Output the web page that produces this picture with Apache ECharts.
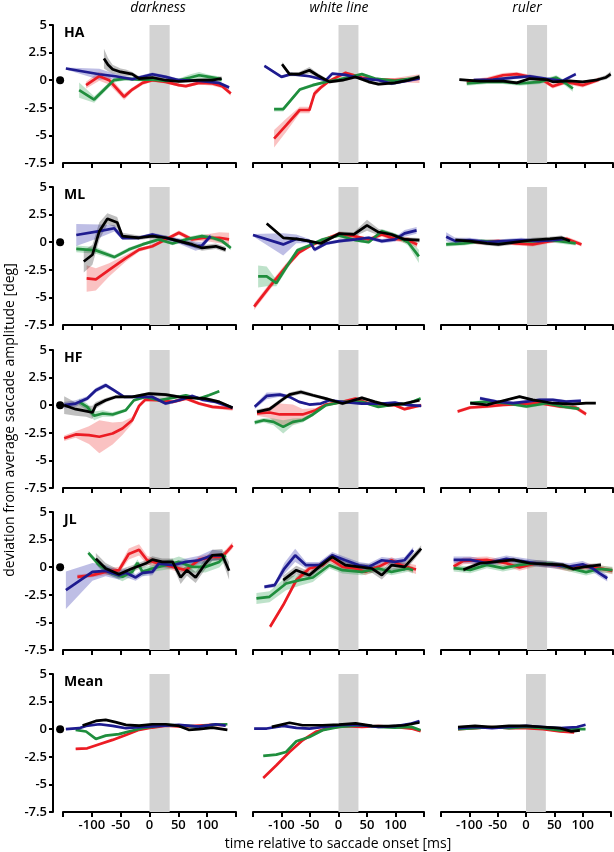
<!DOCTYPE html>
<html><head><meta charset="utf-8">
<script src="https://cdn.jsdelivr.net/npm/echarts@6/dist/echarts.min.js"></script>
<style>html,body{margin:0;padding:0;background:#fff}#c{width:614px;height:852px}</style>
</head><body><div id="c"></div>
<script>
// ---------- labels ----------
const ROWS = ['HA', 'ML', 'HF', 'JL', 'Mean'];
const COLS = ['darkness', 'white line', 'ruler'];
const COLORS = ['red', 'green', 'blue', 'black'];
const yTicks = [5, 2.5, 0, -2.5, -5, -7.5];
const xTickLabels = [-100, -50, 0, 50, 100];
const saccadeWindow = [0, 35];
const refDot = [-155, 0];
const xTitle = 'time relative to saccade onset [ms]';
const yTitle = 'deviation from average saccade amplitude [deg]';

// ---------- data: [time ms, mean deviation deg, band half-width deg] ----------
// HA
const HA_dark_red = [[-110,-0.45,0.3],[-87,0.36,0.4],[-70,0,0.4],[-44,-1.5,0.3],[-30,-0.85,0.2],[-12,-0.24,0.2],[5,0,0.15],[28,-0.15,0.15],[51,-0.45,0.15],[63,-0.54,0.15],[86,-0.24,0.15],[109,-0.3,0.2],[126,-0.54,0.2],[141,-1.2,0.2]];
const HA_dark_green = [[-122,-0.9,0.7],[-96,-1.75,0.3],[-62,0,0.2],[-41,0.15,0.15],[-18,0.06,0.15],[5,0.06,0.15],[28,-0.06,0.15],[51,0,0.15],[71,0.24,0.3],[86,0.45,0.3],[103,0.3,0.2],[120,0.15,0.2],[125,0,0.2]];
const HA_dark_blue = [[-145,1.06,0.1],[-87,0.54,0.5],[-59,0.36,0.2],[-30,0.09,0.15],[5,0.54,0.15],[28,0.3,0.15],[51,0,0.15],[86,-0.06,0.15],[120,-0.24,0.15],[138,-0.66,0.15]];
const HA_dark_black = [[-79,1.96,0.9],[-72,1.4,0.6],[-64,1.0,0.4],[-50,0.75,0.3],[-41,0.66,0.3],[-30,0.55,0.2],[-18,0.15,0.2],[5,0.24,0.15],[28,0,0.15],[51,-0.12,0.15],[86,0,0.15],[109,0,0.2],[125,0.15,0.2]];
const HA_white_red = [[-113,-5.3,0.8],[-92,-4.1,0.6],[-68,-2.7,0.3],[-51,-2.7,0.3],[-42,-1.2,0.3],[-31,-0.66,0.2],[-16,-0.06,0.15],[12,0.66,0.15],[41,0.24,0.15],[70,0.06,0.15],[99,0,0.2],[142,0.15,0.4]];
const HA_white_green = [[-113,-2.63,0.2],[-97,-2.63,0.2],[-68,-0.85,0.15],[-45,-0.45,0.15],[-22,-0.15,0.1],[1,0.06,0.1],[41,0.55,0.1],[64,0.15,0.1],[99,-0.06,0.1],[142,0.24,0.2]];
const HA_white_blue = [[-130,1.3,0.1],[-100,0.3,0.1],[-83,0.55,0.1],[-51,0.36,0.1],[-22,0,0.1],[-11,0.6,0.1],[12,0.48,0.1],[41,0.15,0.1],[70,0,0.1],[93,-0.3,0.15],[116,-0.09,0.15],[142,0.15,0.15]];
const HA_white_black = [[-99,1.45,0.2],[-86,0.55,0.2],[-69,0.55,0.2],[-51,0.9,0.3],[-37,0.45,0.2],[-16,-0.15,0.15],[7,0,0.15],[30,0.3,0.15],[53,-0.15,0.15],[70,-0.36,0.15],[99,-0.24,0.15],[122,0,0.15],[142,0.3,0.2]];
const HA_ruler_red = [[-105,-0.15,0.2],[-70,0.06,0.2],[-42,0.45,0.2],[-18,0.55,0.2],[5,0.3,0.2],[28,0,0.2],[45,-0.55,0.2],[68,-0.15,0.2],[97,-0.45,0.2],[114,-0.15,0.2],[126,0.06,0.2]];
const HA_ruler_green = [[-105,-0.3,0.2],[-70,-0.15,0.2],[-42,-0.15,0.2],[-13,-0.3,0.2],[22,-0.15,0.2],[51,0.24,0.2],[68,-0.3,0.25],[80,-0.75,0.3]];
const HA_ruler_blue = [[-93,0,0.15],[-59,0.06,0.15],[-24,0.24,0.15],[5,0.36,0.15],[34,0.12,0.15],[62,-0.06,0.15],[85,0.55,0.15]];
const HA_ruler_black = [[-118,0.06,0.1],[-82,-0.09,0.1],[-41,-0.09,0.1],[-18,-0.24,0.1],[5,0.15,0.1],[34,0.06,0.1],[45,-0.15,0.1],[74,-0.06,0.1],[97,-0.15,0.1],[120,0,0.15],[137,0.24,0.2],[146,0.55,0.25]];
// ML
const ML_dark_red = [[-109,-3.28,1.2],[-93,-3.37,1.0],[-70,-2.5,0.6],[-41,-1.44,0.3],[-18,-0.67,0.2],[5,-0.37,0.15],[28,0.25,0.15],[51,0.86,0.2],[74,0.25,0.2],[97,0.4,0.3],[121,0.4,0.5],[138,0.25,0.6]];
const ML_dark_green = [[-127,-0.6,0.3],[-93,-0.74,0.3],[-61,-1.35,0.2],[-36,-0.67,0.2],[-12,-0.2,0.15],[16,0.25,0.15],[40,-0.12,0.15],[63,0.25,0.2],[91,0.55,0.2],[109,0.4,0.2],[126,0.1,0.2],[141,-0.52,0.2]];
const ML_dark_blue = [[-127,0.65,1.0],[-87,1.0,0.6],[-61,1.26,0.3],[-47,0.4,0.2],[-18,0.4,0.15],[5,0.7,0.15],[28,0.4,0.2],[51,0.1,0.25],[80,-0.37,0.4],[91,-0.3,0.3],[106,0.55,0.2]];
const ML_dark_black = [[-114,-1.75,1.0],[-99,-1.14,0.9],[-87,1.0,0.8],[-73,2.12,0.5],[-56,1.78,0.5],[-47,0.55,0.3],[-18,0.4,0.2],[5,0.55,0.2],[28,0.4,0.2],[51,0.1,0.2],[74,-0.2,0.25],[91,-0.52,0.25],[115,-0.37,0.25],[132,-0.67,0.25]];
const ML_white_red = [[-148,-5.83,0.3],[-121,-4.05,0.3],[-92,-2.2,0.3],[-69,-0.92,0.2],[-51,-0.37,0.15],[-28,0.18,0.15],[1,0.77,0.15],[27,0.55,0.15],[53,0.25,0.15],[76,0.7,0.2],[99,0.3,0.2],[122,0.18,0.3],[138,-0.2,0.3]];
const ML_white_green = [[-141,-3.1,1.0],[-126,-3.1,0.9],[-109,-3.7,0.3],[-89,-2.06,0.3],[-72,-0.74,0.2],[-51,-0.3,0.15],[-28,0.25,0.15],[1,0.61,0.15],[30,0.18,0.15],[53,0,0.15],[76,1.0,0.2],[99,0.61,0.2],[122,0,0.3],[141,-1.29,0.6]];
const ML_white_blue = [[-150,0.65,0.1],[-97,-0.2,1.0],[-74,0.3,0.4],[-51,0.1,0.2],[-42,-0.67,0.2],[-22,-0.12,0.15],[1,0.1,0.15],[30,0.25,0.15],[53,0.4,0.15],[76,0.1,0.2],[99,0.25,0.2],[116,0.8,0.3],[137,1.07,0.3]];
const ML_white_black = [[-126,1.69,0.1],[-97,0.4,0.1],[-74,0.3,0.1],[-51,0.1,0.1],[-31,-0.12,0.1],[1,0.77,0.2],[27,0.7,0.2],[50,1.53,0.5],[70,0.92,0.3],[93,0.7,0.2],[116,0.25,0.2],[142,0.18,0.2]];
const ML_ruler_red = [[-110,0.1,0.2],[-80,0,0.2],[-50,0.1,0.2],[-20,-0.1,0.2],[10,-0.2,0.2],[40,0.1,0.2],[70,0.3,0.2],[95,-0.2,0.2]];
const ML_ruler_green = [[-141,-0.2,0.2],[-110,-0.1,0.2],[-80,0.1,0.2],[-50,0,0.2],[-20,0.1,0.2],[10,0.1,0.2],[40,0.2,0.2],[70,0,0.2],[85,-0.1,0.2]];
const ML_ruler_blue = [[-141,0.5,0.4],[-125,0.1,0.3],[-100,0.2,0.2],[-70,0,0.2],[-40,0.1,0.2],[-10,0.2,0.2],[20,0.1,0.2],[50,0.2,0.2],[65,0.3,0.2]];
const ML_ruler_black = [[-125,0.2,0.2],[-100,0.1,0.2],[-70,-0.1,0.2],[-50,-0.2,0.2],[-20,0,0.2],[10,0.2,0.2],[40,0.3,0.2],[60,0.4,0.2],[75,0.1,0.2]];
// HF
const HF_dark_red = [[-148,-3.0,0.25],[-128,-2.65,0.3],[-105,-2.71,0.8],[-87,-2.86,1.5],[-64,-2.56,1.0],[-47,-2.11,0.6],[-30,-1.36,0.3],[-18,-0.06,0.2],[-7,0.51,0.15],[16,0.45,0.15],[40,0.3,0.15],[63,0.6,0.15],[86,0.15,0.15],[109,-0.15,0.15],[144,-0.3,0.2]];
const HF_dark_green = [[-122,0.3,0.3],[-108,-0.15,0.3],[-96,-0.96,0.4],[-81,-0.75,0.3],[-64,-0.84,0.2],[-41,-0.45,0.15],[-27,0.45,0.15],[-7,0.75,0.1],[16,0.45,0.1],[40,0.66,0.1],[63,0.9,0.1],[86,0.6,0.1],[103,0.9,0.1],[121,1.27,0.1]];
const HF_dark_blue = [[-148,0,0.3],[-128,0.15,0.3],[-108,0.6,0.2],[-93,1.36,0.2],[-76,1.81,0.2],[-62,1.36,0.15],[-44,0.75,0.1],[-18,0.75,0.1],[5,0.75,0.1],[28,0.15,0.15],[51,0.45,0.15],[74,0.84,0.15],[91,0.51,0.15],[115,0.3,0.15],[144,-0.24,0.15]];
const HF_dark_black = [[-148,0,0.8],[-128,-0.36,0.6],[-110,-0.54,0.5],[-99,-0.66,0.6],[-93,0,0.3],[-76,0.45,0.2],[-59,0.75,0.15],[-30,0.75,0.1],[-1,1.05,0.15],[28,0.96,0.15],[51,0.75,0.15],[74,0.66,0.15],[97,0.6,0.15],[121,0.3,0.15],[144,-0.24,0.15]];
const HF_white_red = [[-143,-0.75,0.2],[-121,-0.66,0.5],[-103,-0.84,1.0],[-80,-0.84,0.9],[-63,-0.84,0.5],[-40,-0.45,0.2],[-22,0.06,0.15],[7,0.3,0.15],[30,0.6,0.15],[53,0.15,0.15],[76,0.06,0.15],[99,0,0.15],[116,-0.36,0.15],[145,0,0.15]];
const HF_white_green = [[-147,-1.57,0.2],[-131,-1.36,0.2],[-114,-1.51,0.3],[-97,-1.96,0.6],[-80,-1.51,0.3],[-63,-1.36,0.2],[-45,-0.84,0.15],[-22,0,0.15],[7,0.3,0.1],[41,0.3,0.1],[70,-0.15,0.1],[99,0.06,0.1],[122,0.15,0.1],[144,0.6,0.15]];
const HF_white_blue = [[-147,-0.15,0.2],[-126,0.84,0.3],[-103,0.96,0.2],[-86,0.75,0.15],[-69,0.3,0.1],[-51,0.06,0.1],[-31,0.15,0.1],[-16,0.45,0.1],[7,0.3,0.1],[41,0.15,0.1],[76,0.15,0.1],[99,0.24,0.1],[122,0,0.1],[145,-0.06,0.1]];
const HF_white_black = [[-143,-0.6,0.2],[-121,-0.36,0.2],[-100,0.45,0.2],[-86,0.96,0.2],[-66,1.2,0.2],[-45,0.9,0.15],[-22,0.6,0.15],[7,0.15,0.15],[41,0.66,0.15],[64,0.3,0.15],[87,0,0.15],[116,0.15,0.15],[142,0.45,0.15]];
const HF_ruler_red = [[-121,-0.57,0.15],[-99,-0.21,0.15],[-70,-0.12,0.15],[-42,0.03,0.15],[-13,0.09,0.15],[22,0.18,0.15],[57,-0.12,0.15],[85,-0.21,0.2],[103,-0.81,0.2]];
const HF_ruler_green = [[-99,0.18,0.15],[-70,0.33,0.15],[-36,0.18,0.15],[-1,-0.12,0.15],[34,0.18,0.15],[62,-0.12,0.15],[91,-0.33,0.15]];
const HF_ruler_blue = [[-82,0.63,0.15],[-53,0.33,0.15],[-24,0.18,0.15],[-1,0.33,0.15],[22,0.48,0.15],[45,0.48,0.15],[68,0.33,0.15],[94,0.39,0.15]];
const HF_ruler_black = [[-99,0.18,0.1],[-70,0.03,0.1],[-47,0.33,0.1],[-13,0.78,0.1],[10,0.48,0.1],[45,0.18,0.1],[80,0.09,0.1],[103,0.18,0.1],[120,0.18,0.1]];
// JL
const JL_dark_red = [[-125,-0.87,0.2],[-99,-0.72,0.2],[-76,-0.42,0.3],[-53,-0.27,0.3],[-36,1.2,0.5],[-18,1.57,0.5],[-4,0.63,0.4],[16,0.33,0.3],[40,0.03,0.3],[63,-0.27,0.3],[86,0.69,0.3],[109,0.93,0.3],[126,0.93,0.3],[144,1.99,0.3]];
const JL_dark_green = [[-106,1.3,0.2],[-87,0.18,0.3],[-64,-0.57,0.3],[-47,-0.87,0.4],[-30,-0.42,0.4],[-21,0.39,0.3],[-12,-0.42,0.4],[5,-0.12,0.3],[28,0.18,0.4],[51,0.48,0.5],[74,0.03,0.5],[97,0.03,0.5],[121,0.48,0.5],[132,1.08,0.5]];
const JL_dark_blue = [[-145,-2.08,1.7],[-99,-0.42,0.8],[-76,-0.33,0.5],[-53,-0.72,0.4],[-41,-0.51,0.4],[-24,-0.93,0.3],[-12,-0.51,0.3],[5,-0.42,0.3],[16,0.33,0.3],[40,0.18,0.3],[63,0.48,0.3],[86,0.63,0.4],[109,1.08,0.5],[126,1.08,0.4]];
const JL_dark_black = [[-93,0.78,0.5],[-76,-0.12,0.5],[-53,-0.63,0.4],[-30,-0.12,0.3],[-7,0.33,0.3],[5,0.69,0.3],[22,0.48,0.3],[40,0.48,0.3],[54,-0.93,0.6],[65,-0.27,0.5],[80,-0.93,0.5],[97,0.33,0.5],[109,1.08,0.5],[126,1.14,0.5],[138,-0.33,0.8]];
const JL_white_red = [[-120,-5.39,0.2],[-97,-3.43,0.2],[-74,-1.17,0.3],[-51,-0.12,0.3],[-28,0.18,0.3],[-16,0.78,0.3],[7,0.03,0.3],[30,-0.12,0.3],[47,-0.42,0.3],[70,0.03,0.3],[93,0.63,0.3],[110,0.18,0.3],[136,-0.21,0.4]];
const JL_white_green = [[-144,-2.83,0.5],[-121,-2.68,0.5],[-92,-1.48,0.6],[-68,-1.17,0.5],[-45,-0.93,0.4],[-16,0.18,0.3],[7,-0.27,0.3],[41,-0.42,0.3],[70,-0.12,0.3],[93,-0.42,0.3],[122,-0.12,0.3],[131,-0.27,0.3]];
const JL_white_blue = [[-130,-1.78,0.15],[-112,-1.63,0.2],[-95,-0.12,0.5],[-76,1.08,0.6],[-57,0.18,0.3],[-34,0.18,0.3],[-11,1.08,0.3],[12,0.63,0.3],[36,0.18,0.3],[53,0.03,0.3],[76,0.63,0.3],[99,0.48,0.3],[116,0.63,0.3],[131,1.54,0.3]];
const JL_white_black = [[-97,-1.17,0.4],[-74,-0.27,0.4],[-51,-0.72,0.3],[-34,0.03,0.3],[-11,0.93,0.3],[12,0.18,0.3],[36,0.03,0.3],[59,-0.12,0.4],[76,-0.72,0.4],[93,0.18,0.4],[116,0.03,0.4],[145,1.69,0.3]];
const JL_ruler_red = [[-128,0.06,0.3],[-111,0.57,0.3],[-70,0.66,0.3],[-36,0.36,0.3],[-13,-0.03,0.3],[16,0.36,0.3],[45,0.21,0.3],[74,-0.09,0.3],[103,0.06,0.3],[126,-0.09,0.3],[149,-0.33,0.3]];
const JL_ruler_green = [[-128,-0.09,0.3],[-99,-0.24,0.3],[-70,0.21,0.3],[-42,-0.09,0.3],[-13,0.21,0.3],[16,0.36,0.3],[45,0.27,0.3],[74,-0.09,0.3],[103,-0.45,0.3],[126,-0.15,0.3],[149,-0.27,0.3]];
const JL_ruler_blue = [[-128,0.66,0.3],[-99,0.66,0.3],[-70,0.36,0.3],[-36,0.75,0.3],[-13,0.57,0.3],[16,0.36,0.3],[45,0.21,0.3],[74,0.06,0.3],[97,0.27,0.3],[114,-0.09,0.3],[126,-0.54,0.3],[140,-1.0,0.3]];
const JL_ruler_black = [[-111,-0.24,0.2],[-82,0.36,0.2],[-53,0.51,0.2],[-24,0.66,0.2],[5,0.36,0.2],[34,0.27,0.2],[62,0.21,0.2],[80,-0.15,0.2],[103,0.06,0.2],[129,0.21,0.2]];
// Mean
const Mean_dark_red = [[-128,-1.79,0.08],[-108,-1.73,0.08],[-87,-1.36,0.08],[-64,-0.97,0.08],[-41,-0.52,0.08],[-18,-0.06,0.08],[5,0.15,0.08],[28,0.33,0.08],[57,0.24,0.08],[86,0.33,0.08],[109,0.39,0.08],[132,0.39,0.08]];
const Mean_dark_green = [[-128,-0.06,0.08],[-110,-0.21,0.08],[-93,-0.88,0.08],[-76,-0.58,0.08],[-53,-0.45,0.08],[-36,-0.21,0.08],[-7,0.15,0.08],[28,0.39,0.08],[57,0.33,0.08],[86,0.24,0.08],[109,0.39,0.08],[135,0.45,0.08]];
const Mean_dark_blue = [[-145,0,0.08],[-122,0.09,0.08],[-110,0.3,0.08],[-87,0.45,0.08],[-64,0.3,0.08],[-41,0.09,0.08],[-7,0.24,0.08],[28,0.33,0.08],[51,0.39,0.08],[86,0.24,0.08],[115,0.45,0.08],[132,0.33,0.08]];
const Mean_dark_black = [[-116,0.33,0.08],[-93,0.75,0.08],[-76,0.84,0.08],[-59,0.64,0.08],[-41,0.39,0.08],[-18,0.33,0.08],[5,0.45,0.08],[28,0.45,0.08],[51,0.3,0.08],[68,-0.06,0.08],[86,0,0.08],[109,0.15,0.08],[135,-0.06,0.08]];
const Mean_white_red = [[-132,-4.42,0.08],[-109,-3.27,0.08],[-86,-2.06,0.08],[-63,-1.0,0.08],[-40,-0.24,0.08],[-16,0.12,0.08],[12,0.27,0.08],[41,0.21,0.08],[70,0.27,0.08],[99,0.21,0.08],[128,0.06,0.08],[144,-0.18,0.08]];
const Mean_white_green = [[-132,-2.42,0.08],[-109,-2.3,0.08],[-92,-2.06,0.08],[-74,-1.09,0.08],[-51,-0.7,0.08],[-28,-0.09,0.08],[1,0.21,0.08],[41,0.36,0.08],[70,0.21,0.08],[99,0.15,0.08],[128,0.21,0.08],[144,-0.09,0.08]];
const Mean_white_blue = [[-148,0.06,0.08],[-126,0.06,0.08],[-97,0.3,0.08],[-74,0.12,0.08],[-51,0.06,0.08],[-16,0.27,0.08],[12,0.42,0.08],[41,0.36,0.08],[70,0.21,0.08],[99,0.27,0.08],[128,0.52,0.08],[142,0.73,0.08]];
const Mean_white_black = [[-117,0.21,0.08],[-86,0.58,0.08],[-63,0.36,0.08],[-28,0.36,0.08],[1,0.42,0.08],[30,0.52,0.08],[59,0.3,0.08],[87,0.27,0.08],[116,0.36,0.08],[142,0.61,0.08]];
const Mean_ruler_red = [[-120,0,0.08],[-90,0.1,0.08],[-60,0.2,0.08],[-30,0.1,0.08],[0,0.1,0.08],[30,0,0.08],[60,-0.2,0.08],[85,-0.3,0.08]];
const Mean_ruler_green = [[-120,0,0.08],[-90,0.1,0.08],[-60,0.2,0.08],[-30,0.1,0.08],[0,0.2,0.08],[30,0.1,0.08],[60,-0.1,0.08],[90,0,0.08],[105,0,0.08]];
const Mean_ruler_blue = [[-120,0.1,0.08],[-90,0.2,0.08],[-60,0.1,0.08],[-30,0.2,0.08],[0,0.3,0.08],[30,0.2,0.08],[60,0.1,0.08],[90,0.2,0.08],[105,0.4,0.08]];
const Mean_ruler_black = [[-120,0.2,0.08],[-90,0.3,0.08],[-60,0.2,0.08],[-30,0.3,0.08],[0,0.3,0.08],[30,0.2,0.08],[60,0.1,0.08],[80,-0.2,0.08],[95,-0.1,0.08]];

const DATA = {
  HA: {darkness:{red:HA_dark_red,green:HA_dark_green,blue:HA_dark_blue,black:HA_dark_black},
       'white line':{red:HA_white_red,green:HA_white_green,blue:HA_white_blue,black:HA_white_black},
       ruler:{red:HA_ruler_red,green:HA_ruler_green,blue:HA_ruler_blue,black:HA_ruler_black}},
  ML: {darkness:{red:ML_dark_red,green:ML_dark_green,blue:ML_dark_blue,black:ML_dark_black},
       'white line':{red:ML_white_red,green:ML_white_green,blue:ML_white_blue,black:ML_white_black},
       ruler:{red:ML_ruler_red,green:ML_ruler_green,blue:ML_ruler_blue,black:ML_ruler_black}},
  HF: {darkness:{red:HF_dark_red,green:HF_dark_green,blue:HF_dark_blue,black:HF_dark_black},
       'white line':{red:HF_white_red,green:HF_white_green,blue:HF_white_blue,black:HF_white_black},
       ruler:{red:HF_ruler_red,green:HF_ruler_green,blue:HF_ruler_blue,black:HF_ruler_black}},
  JL: {darkness:{red:JL_dark_red,green:JL_dark_green,blue:JL_dark_blue,black:JL_dark_black},
       'white line':{red:JL_white_red,green:JL_white_green,blue:JL_white_blue,black:JL_white_black},
       ruler:{red:JL_ruler_red,green:JL_ruler_green,blue:JL_ruler_blue,black:JL_ruler_black}},
  Mean: {darkness:{red:Mean_dark_red,green:Mean_dark_green,blue:Mean_dark_blue,black:Mean_dark_black},
       'white line':{red:Mean_white_red,green:Mean_white_green,blue:Mean_white_blue,black:Mean_white_black},
       ruler:{red:Mean_ruler_red,green:Mean_ruler_green,blue:Mean_ruler_blue,black:Mean_ruler_black}}
};

// ---------- styles / layout ----------
const LINE_COLOR = {red:'#ec1c24', green:'#1f8e3d', blue:'#1e1b8f', black:'#000000'};
const BAND_COLOR = {red:'rgba(240,80,80,0.35)', green:'rgba(40,160,80,0.3)', blue:'rgba(70,70,180,0.35)', black:'rgba(0,0,0,0.25)'};
const GRID_TOP = [25, 187, 350, 512, 674];
const GRID_LEFT = [63, 253, 441];
const GRID_W = [173, 171, 172];
const GRID_H = 138;
const FONT = '"Open Sans", "DejaVu Sans", sans-serif';

const grids = [], xAxes = [], yAxes = [], series = [], graphics = [];
ROWS.forEach((row, r) => {
  COLS.forEach((col, c) => {
    const idx = r * 3 + c;
    grids.push({left: GRID_LEFT[c], top: GRID_TOP[r], width: GRID_W[c], height: GRID_H});
    xAxes.push({
      gridIndex: idx, type: 'value', min: -150, max: 150, interval: 50,
      axisLine: {show: true, onZero: false, lineStyle: {color: '#000', width: 2}},
      axisTick: {show: true, length: 5, lineStyle: {color: '#000', width: 2}},
      axisLabel: {show: r === ROWS.length - 1, color: '#000', fontSize: 13, fontWeight: 600, fontFamily: FONT, margin: 7,
        formatter: v => xTickLabels.includes(v) ? String(v) : ''},
      splitLine: {show: false}
    });
    yAxes.push({
      gridIndex: idx, type: 'value', min: yTicks[yTicks.length - 1], max: yTicks[0], interval: 2.5,
      show: c === 0, offset: 10,
      axisLine: {show: true, onZero: false, lineStyle: {color: '#000', width: 2}},
      axisTick: {show: true, length: 4, lineStyle: {color: '#000', width: 2}},
      axisLabel: {color: '#000', fontSize: 13, fontWeight: 600, fontFamily: FONT, margin: 6, formatter: v => String(v)},
      splitLine: {show: false}
    });
    // grey saccade window (custom rect through the axes)
    series.push({
      type: 'custom', xAxisIndex: idx, yAxisIndex: idx, silent: true, z: 1,
      data: [[saccadeWindow[0], saccadeWindow[1]]],
      renderItem: (params, api) => {
        const p0 = api.coord([api.value(0), yTicks[0]]);
        const p1 = api.coord([api.value(1), yTicks[yTicks.length - 1]]);
        return {type: 'rect', shape: {x: p0[0], y: p0[1], width: p1[0] - p0[0], height: p1[1] - p0[1]},
          style: {fill: '#d3d3d3'}};
      }
    });
    const panel = DATA[row][col];
    COLORS.forEach(color => {
      const d = panel[color];
      series.push({
        type: 'custom', xAxisIndex: idx, yAxisIndex: idx, silent: true, z: 2, clip: true,
        data: d.map(p => [p[0], p[1] - p[2], p[1] + p[2]]),
        encode: {x: 0, y: [1, 2]},
        renderItem: (params, api) => {
          if (params.dataIndex !== 0) return null;
          const up = d.map(p => api.coord([p[0], p[1] + p[2]]));
          const lo = d.map(p => api.coord([p[0], p[1] - p[2]])).reverse();
          return {type: 'polygon', shape: {points: up.concat(lo)}, style: {fill: BAND_COLOR[color]}};
        }
      });
    });
    COLORS.forEach(color => {
      const d = panel[color];
      series.push({type: 'line', xAxisIndex: idx, yAxisIndex: idx, symbol: 'none', silent: true, z: 3,
        lineStyle: {color: LINE_COLOR[color], width: 2.7}, data: d.map(p => [p[0], p[1]])});
    });
    if (c === 0) {
      series.push({type: 'scatter', xAxisIndex: idx, yAxisIndex: idx, clip: false, symbolSize: 8,
        itemStyle: {color: '#000', opacity: 1}, silent: true, z: 4, data: [refDot]});
      graphics.push({type: 'text', left: 64, top: GRID_TOP[r] + 1,
        style: {text: row, font: 'bold 14px ' + FONT, fill: '#000'}});
    }
    if (r === 0) {
      graphics.push({type: 'text', x: GRID_LEFT[c] + [95, 86, 86][c], y: 8,
        style: {text: col, font: 'italic 14px ' + FONT, fill: '#000', textAlign: 'center', textVerticalAlign: 'middle'}});
    }
  });
});
graphics.push({type: 'text', x: 338, y: 844,
  style: {text: xTitle, font: '14px ' + FONT, fill: '#000', textAlign: 'center', textVerticalAlign: 'middle'}});
graphics.push({type: 'text', x: 10, y: 420, rotation: Math.PI / 2,
  style: {text: yTitle, font: '14px ' + FONT, fill: '#000', textAlign: 'center', textVerticalAlign: 'middle'}});

const chart = echarts.init(document.getElementById('c'), null, {renderer: 'canvas'});
chart.setOption({
  animation: false, backgroundColor: '#fff',
  grid: grids, xAxis: xAxes, yAxis: yAxes, series: series, graphic: graphics
});
</script></body></html>
